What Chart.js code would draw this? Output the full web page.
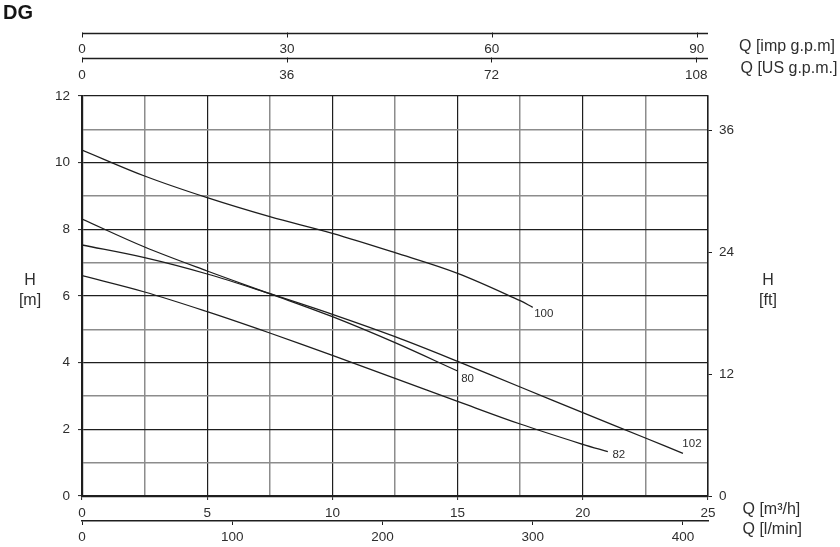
<!DOCTYPE html>
<html>
<head>
<meta charset="utf-8">
<script src="https://cdn.jsdelivr.net/npm/chart.js@4.4.1/dist/chart.umd.min.js"></script>
<style>
  html, body { margin: 0; padding: 0; background: #fff; }
  #wrap { width: 840px; height: 547px; position: relative; }
</style>
</head>
<body>
<div id="wrap"><canvas id="c"></canvas></div>
<script>
// ---- Data ----
const curveNames = ['100', '80', '102', '82'];
const q100 = [0, 2.5, 5, 7.5, 10, 12.5, 15, 17.5, 18];
const h100 = [10.38, 9.6, 8.95, 8.38, 7.88, 7.3, 6.68, 5.86, 5.66];
const q80  = [0, 2.5, 5, 7.5, 10, 12.5, 15];
const h80  = [8.31, 7.47, 6.75, 6.07, 5.38, 4.6, 3.75];
const q102 = [0, 2.5, 5, 7.5, 10, 12.5, 15, 17.5, 20, 22.5, 24];
const h102 = [7.53, 7.15, 6.66, 6.07, 5.45, 4.78, 4.04, 3.27, 2.5, 1.74, 1.28];
const q82  = [0, 2.5, 5, 7.5, 10, 12.5, 15, 17.5, 20, 21];
const h82  = [6.61, 6.12, 5.53, 4.89, 4.22, 3.53, 2.84, 2.16, 1.55, 1.33];

// ---- Axis ticks ----
const qGridTicks  = [0, 2.5, 5, 7.5, 10, 12.5, 15, 17.5, 20, 22.5, 25];
const qTickLabels = [0, 5, 10, 15, 20, 25];
const hGridTicks  = [0, 1, 2, 3, 4, 5, 6, 7, 8, 9, 10, 11, 12];
const hTickLabels = [0, 2, 4, 6, 8, 10, 12];
const ftTicks     = [0, 12, 24, 36];
const impTicks    = [0, 30, 60, 90];
const usTicks     = [0, 36, 72, 108];
const lminTicks   = [0, 100, 200, 300, 400];

// ---- Unit ranges (from the m3/h and m ranges) ----
const Q_MAX = 25, H_MAX = 12;
const IMP_MAX = Q_MAX * 1000 / 60 / 4.54609;
const US_MAX = Q_MAX * 1000 / 60 / 3.785411784;
const LMIN_MAX = Q_MAX * 1000 / 60;
const FT_MAX = H_MAX / 0.3048;

const DARK = '#1e1e1e';
const GRAY = '#8c8c8c';
const TXT = '#2e2e2e';
const FONT = 'Liberation Sans, Arial, Helvetica, sans-serif';

function pts(qs, hs) { return qs.map((q, i) => ({ x: q, y: hs[i] })); }
function setTicks(vals) { return (scale) => { scale.ticks = vals.map(v => ({ value: v })); }; }

const series = [
  { q: q100, h: h100, dx: 11, dy: 6 },
  { q: q80,  h: h80,  dx: 10, dy: 8 },
  { q: q102, h: h102, dx: 9, dy: -10 },
  { q: q82,  h: h82,  dx: 11, dy: 3 }
];

const datasets = series.map((s, i) => ({
  label: curveNames[i],
  data: pts(s.q, s.h),
  borderColor: DARK,
  borderWidth: 1.3,
  pointRadius: 0,
  fill: false,
  tension: 0.35,
  xAxisID: 'x',
  yAxisID: 'y',
  endLabelDx: s.dx,
  endLabelDy: s.dy
}));

const decorPlugin = {
  id: 'decor',
  afterDraw(chart, args, opts) {
    const ctx = chart.ctx;
    const ca = chart.chartArea;
    ctx.save();
    // lines above the top axes' labels
    ctx.strokeStyle = DARK;
    for (const id of opts.topLines) {
      const s = chart.scales[id];
      const y = s.top + 0.5;
      ctx.lineWidth = 1.5;
      ctx.beginPath();
      ctx.moveTo(s.left, y);
      ctx.lineTo(s.right, y);
      ctx.stroke();
      ctx.lineWidth = 1;
      for (const t of s.ticks) {
        const x = Math.round(s.getPixelForValue(t.value)) + 0.5;
        ctx.beginPath();
        ctx.moveTo(x, y - 1);
        ctx.lineTo(x, y + 4);
        ctx.stroke();
      }
    }
    // axis titles
    ctx.fillStyle = TXT;
    ctx.font = '16px ' + FONT;
    ctx.textBaseline = 'middle';
    for (const t of opts.xTitles) {
      const s = chart.scales[t.scale];
      ctx.textAlign = 'left';
      ctx.fillText(t.text, ca.right + t.dx, s.top + t.dy);
    }
    for (const t of opts.yTitles) {
      const s = chart.scales[t.scale];
      const cx = t.side === 'left' ? ca.left - t.dx : ca.right + t.dx;
      const cy = (s.top + s.bottom) / 2;
      ctx.textAlign = 'center';
      t.lines.forEach((ln, k) => ctx.fillText(ln, cx, cy + t.dy + k * t.gap));
    }
    ctx.restore();
  },
  afterDatasetsDraw(chart) {
    const ctx = chart.ctx;
    ctx.save();
    ctx.fillStyle = TXT;
    ctx.font = '11.5px ' + FONT;
    ctx.textAlign = 'center';
    ctx.textBaseline = 'middle';
    chart.data.datasets.forEach((ds, i) => {
      const meta = chart.getDatasetMeta(i);
      const last = meta.data[meta.data.length - 1];
      if (!last) return;
      ctx.fillText(ds.label, last.x + ds.endLabelDx, last.y + ds.endLabelDy);
    });
    ctx.restore();
  }
};

const tickFont = { family: FONT, size: 13.5 };

new Chart(document.getElementById('c'), {
  type: 'line',
  data: { datasets },
  plugins: [decorPlugin],
  options: {
    responsive: true,
    maintainAspectRatio: false,
    animation: false,
    events: [],
    layout: { padding: { left: 3, right: 0, top: 0, bottom: 0 } },
    plugins: {
      legend: { display: false },
      tooltip: { enabled: false },
      title: {
        display: true,
        text: 'DG',
        align: 'start',
        color: '#151515',
        font: { family: FONT, size: 20, weight: 'bold', lineHeight: 1.2 },
        padding: { top: 1.5, bottom: 7.5 }
      },
      decor: {
        topLines: ['imp', 'us'],
        xTitles: [
          { scale: 'imp', text: 'Q [imp g.p.m]', dx: 31, dy: 13.5 },
          { scale: 'us', text: 'Q [US g.p.m.]', dx: 32.5, dy: 10.5 },
          { scale: 'x', text: 'Q [m³/h]', dx: 34.5, dy: 13.5 },
          { scale: 'lmin', text: 'Q [l/min]', dx: 34.5, dy: 9 }
        ],
        yTitles: [
          { scale: 'y', side: 'left', lines: ['H', '[m]'], dx: 52, dy: -15, gap: 20 },
          { scale: 'y', side: 'right', lines: ['H', '[ft]'], dx: 60, dy: -15, gap: 20 }
        ]
      }
    },
    scales: {
      x: {
        type: 'linear', position: 'bottom', weight: 0,
        min: 0, max: Q_MAX,
        afterBuildTicks: setTicks(qGridTicks),
        afterFit: (s) => { s.height = 25; },
        ticks: {
          autoSkip: false, maxRotation: 0, color: TXT, font: tickFont, padding: 5.5,
          callback: (v) => qTickLabels.includes(v) ? String(v) : ''
        },
        grid: {
          color: (c) => (c.tick && qTickLabels.includes(c.tick.value)) ? DARK : GRAY,
          lineWidth: (c) => (c.tick && qTickLabels.includes(c.tick.value)) ? 1.2 : 1.5,
          tickColor: (c) => (c.tick && qTickLabels.includes(c.tick.value)) ? DARK : 'rgba(0,0,0,0)',
          tickLength: 4, tickWidth: 1
        },
        border: { display: true, color: DARK, width: 2.2 }
      },
      lmin: {
        type: 'linear', position: 'bottom', weight: 1,
        min: 0, max: LMIN_MAX,
        afterBuildTicks: setTicks(lminTicks),
        afterFit: (s) => { s.height = 26; },
        ticks: { autoSkip: false, maxRotation: 0, color: TXT, font: tickFont, padding: 4.5 },
        grid: { drawOnChartArea: false, color: DARK, tickLength: 4, tickWidth: 1 },
        border: { display: true, color: DARK, width: 1.5 }
      },
      us: {
        type: 'linear', position: 'top', weight: 1,
        min: 0, max: US_MAX,
        afterBuildTicks: setTicks(usTicks),
        afterFit: (s) => { s.height = 38; },
        ticks: { autoSkip: false, maxRotation: 0, color: TXT, font: tickFont, padding: 13 },
        grid: { display: false, drawTicks: false },
        border: { display: false }
      },
      imp: {
        type: 'linear', position: 'top', weight: 2,
        min: 0, max: IMP_MAX,
        afterBuildTicks: setTicks(impTicks),
        afterFit: (s) => { s.height = 25; },
        ticks: { autoSkip: false, maxRotation: 0, color: TXT, font: tickFont, padding: 1 },
        grid: { display: false, drawTicks: false },
        border: { display: false }
      },
      y: {
        type: 'linear', position: 'left',
        min: 0, max: H_MAX,
        afterBuildTicks: setTicks(hGridTicks),
        afterFit: (s) => { s.width = 79; },
        ticks: {
          autoSkip: false, color: TXT, font: tickFont, padding: 8,
          callback: (v) => hTickLabels.includes(v) ? String(v) : ''
        },
        grid: {
          color: (c) => (c.tick && hTickLabels.includes(c.tick.value)) ? DARK : GRAY,
          lineWidth: (c) => (c.tick && hTickLabels.includes(c.tick.value)) ? 1.2 : 1.5,
          tickColor: (c) => (c.tick && hTickLabels.includes(c.tick.value)) ? DARK : 'rgba(0,0,0,0)',
          tickLength: 4, tickWidth: 1
        },
        border: { display: true, color: DARK, width: 2.2 }
      },
      ft: {
        type: 'linear', position: 'right',
        min: 0, max: FT_MAX,
        afterBuildTicks: setTicks(ftTicks),
        afterFit: (s) => { s.width = 132; },
        ticks: { autoSkip: false, color: TXT, font: tickFont, padding: 7 },
        grid: { drawOnChartArea: false, color: DARK, tickLength: 4, tickWidth: 1 },
        border: { display: true, color: DARK, width: 1.5 }
      }
    }
  }
});
</script>
</body>
</html>
